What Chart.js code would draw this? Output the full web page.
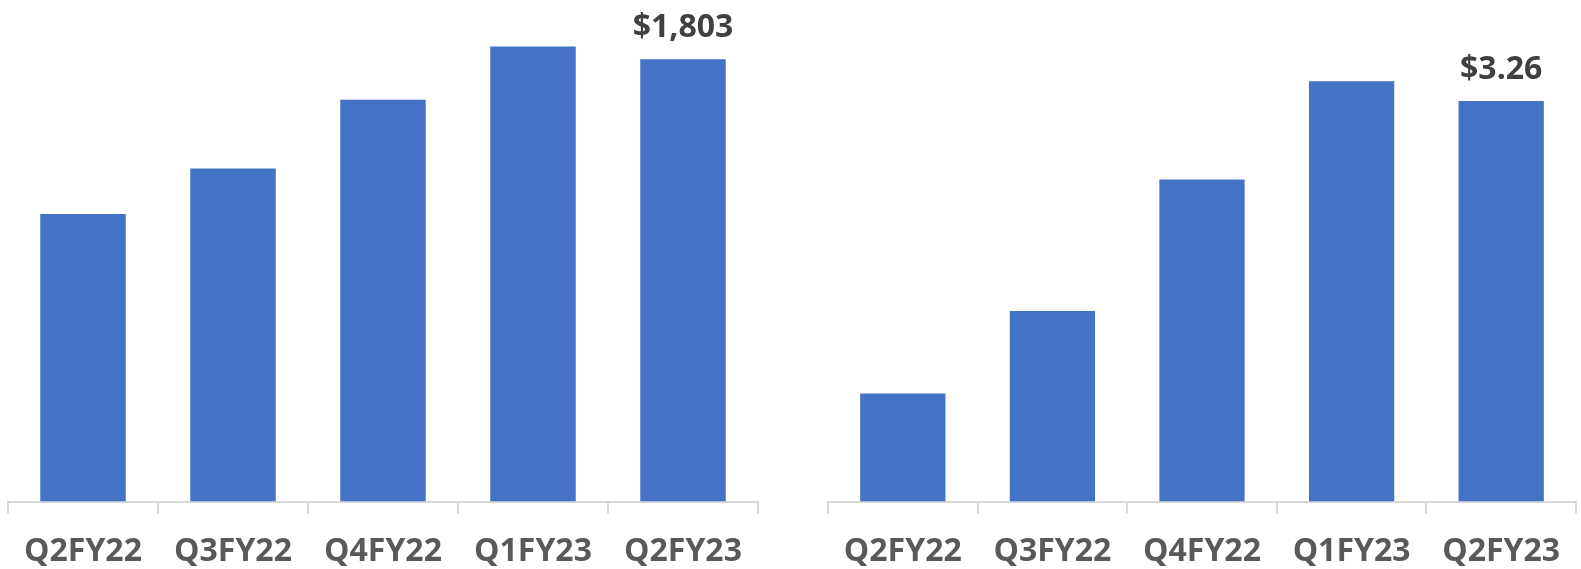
<!DOCTYPE html>
<html>
<head>
<meta charset="utf-8">
<script src="https://cdn.jsdelivr.net/npm/chart.js@4"></script>
<style>
    html, body { margin: 0; padding: 0; background: #fff; overflow: hidden; }
    #wrap { position: relative; width: 1581px; height: 569px; overflow: hidden; }
    .box { position: absolute; top: 0; height: 590px; }
    #leftBox { left: 0; width: 790px; }
    #rightBox { left: 790px; width: 791px; }
</style>
</head>
<body>
<div id="wrap">
    <div class="box" id="leftBox"><canvas id="revenueChart"></canvas></div>
    <div class="box" id="rightBox"><canvas id="epsChart"></canvas></div>
</div>
<script>
const quarters = ['Q2FY22', 'Q3FY22', 'Q4FY22', 'Q1FY23', 'Q2FY23'];
const revenue = [1172, 1358, 1638, 1855, 1803];
const eps = [0.88, 1.55, 2.62, 3.42, 3.26];
const revenueLabel = '$1,803';
const epsLabel = '$3.26';

const FONT = "'Open Sans', 'DejaVu Sans', sans-serif";

// Draws the value text above the last bar only
const lastBarLabel = {
    id: 'lastBarLabel',
    afterDatasetsDraw(chart, args, opts) {
        const meta = chart.getDatasetMeta(0);
        const bar = meta.data[meta.data.length - 1];
        const ctx = chart.ctx;
        ctx.save();
        ctx.font = `bold 32px ${FONT}`;
        ctx.fillStyle = '#404040';
        ctx.textAlign = 'center';
        ctx.textBaseline = 'alphabetic';
        ctx.fillText(opts.text, bar.x, bar.y - 22);
        ctx.restore();
    }
};

function makeChart(id, values, max, label, padding) {
    const ctx = document.getElementById(id).getContext('2d');
    return new Chart(ctx, {
        type: 'bar',
        data: {
            labels: quarters,
            datasets: [{
                data: values,
                backgroundColor: '#4472C4',
                borderWidth: 0,
                categoryPercentage: 1,
                barPercentage: 0.57
            }]
        },
        options: {
            responsive: true,
            maintainAspectRatio: false,
            animation: false,
            layout: { padding },
            scales: {
                x: {
                    grid: {
                        offset: true,
                        drawOnChartArea: false,
                        color: '#d9d9d9',
                        lineWidth: 2,
                        tickLength: 12
                    },
                    border: { display: true, color: '#d9d9d9', width: 2 },
                    ticks: {
                        color: '#595959',
                        padding: 19,
                        font: { family: FONT, size: 32, weight: 'bold' }
                    }
                },
                y: { display: false, min: 0, max }
            },
            plugins: {
                legend: { display: false },
                tooltip: { enabled: false },
                lastBarLabel: { text: label }
            }
        },
        plugins: [lastBarLabel]
    });
}

makeChart('revenueChart', revenue, 2000, revenueLabel, { top: 11, left: 8, right: 32, bottom: 0 });
makeChart('epsChart', eps, 4, epsLabel, { top: 10, left: 38, right: 5, bottom: 0 });
</script>
</body>
</html>
